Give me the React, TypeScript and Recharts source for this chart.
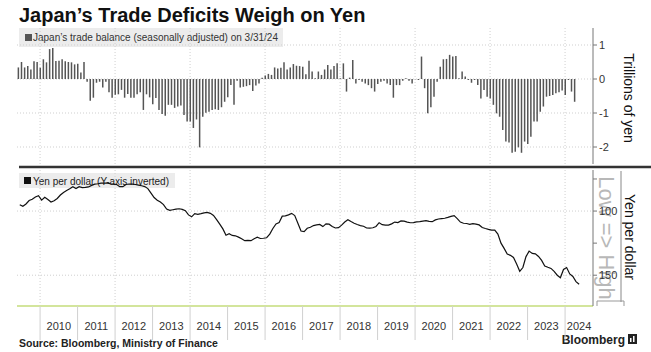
import { BarChart, Bar, LineChart, Line, XAxis, YAxis, CartesianGrid } from 'recharts';

const FONT = "'Liberation Sans', Arial, sans-serif";

// Japan's trade balance, seasonally adjusted, trillions of yen, monthly May 2009 .. Mar 2024
const BAL_START = { year: 2009, month: 5 };
const tradeBalance = [
  0.34, 0.5, 0.34, 0.38, 0.28, 0.52, 0.5, 0.33, 0.58, 0.49, 0.88, 0.91, 0.53, 0.54, 0.58, 0.52,
  0.5, 0.49, 0.43, 0.45, 0.19, 0.5,
  -0.08, -0.64, -0.55, -0.11, -0.08, -0.25, -0.08, -0.39, -0.55, -0.46, -0.45, -0.32, -0.55, -0.44,
  -0.55, -0.55, -0.45, -0.39, -0.91, -0.45, -0.54, -0.74, -0.56, -0.91, -1.03, -1.08, -0.76, -0.76,
  -0.85, -0.81, -0.78, -1.06, -1.25, -1.25, -1.44, -1.19, -2.01, -1.11, -0.99, -0.96, -0.91, -0.89,
  -0.91,
  -0.83, -0.67, -0.54, -0.18, -0.76, -0.05, -0.25, -0.23, -0.21, -0.18, -0.35, -0.19, -0.13, 0.04,
  0.1, 0.15, 0.12, 0.34, 0.31, 0.33, 0.49, 0.28, 0.34, 0.44, 0.39, 0.38, 0.36, 0.14, 0.54, 0.22,
  0.02, 0.22, 0.12, 0.28, 0.41, 0.28, 0.38, 0.46, 0.02, 0.46, -0.37, 0.04, 0.56, -0.13, -0.03, -0.08,
  -0.13, -0.18, -0.27, -0.37, -0.15, -0.08, -0.05, -0.13, -0.18, -0.55, -0.18, -0.18, -0.05, 0.02,
  -0.05, -0.13, -0.01, -0.03,
  0.66, -0.27, -1.01, -0.83, -0.52, -0.08, 0.36, 0.58, 0.59, 0.71, 0.66, 0.68, 0.02, 0.22, 0.07,
  -0.03, -0.11, -0.03, -0.18, -0.57, -0.32, -0.52, -0.57, -0.76, -1.01, -1.11, -1.5, -1.84, -1.87,
  -2.17, -2.14, -2.01, -2.17, -1.84, -1.91, -1.7, -1.25, -1.25, -0.96, -0.81, -0.52, -0.5, -0.47,
  -0.42, -0.39, -0.34, -0.47, -0.03, -0.37, -0.67,
];

// Yen per dollar, monthly Jun 2009 .. May 2024
const YEN_START = { year: 2009, month: 6 };
const yenPerDollar = [
  95.1, 96.3, 94.5, 91.8, 90.8, 89, 88,
  91.5, 89.3, 91, 93, 92, 90.2, 87.5, 85.5, 84, 82.7, 81, 82.5,
  81, 81.7, 81.6, 81.2, 80, 79, 78.7, 78.3, 78.3, 78.3, 78.7, 79,
  79.3, 81, 81, 79.3, 78.9, 79, 79.3, 79.8, 80.3, 80.9, 82.5, 86,
  89.5, 91.5, 93, 95, 98.5, 99.5, 99, 98.5, 98.2, 98.7, 99.7, 103,
  104.5, 102, 102.5, 102, 101.4, 101.1, 101.8, 103.4, 106.7, 110.2, 113.9, 118.8,
  117.7, 119, 119.3, 120.3, 121.6, 123.1, 122.8, 123.1, 121.6, 120.4, 121.4, 121.2,
  120.8, 118, 113.6, 110, 109, 104, 103.8, 103, 101.8, 103.5, 109.5, 115.6,
  116, 113.4, 112.6, 111.3, 110.8, 110.4, 112.1, 110, 110.2, 112, 113.2, 112.9,
  111, 108.5, 106.8, 108.2, 109.5, 110.5, 111.3, 111.8, 113.2, 113.3, 113, 112,
  109.1, 110.6, 111, 111, 110, 108.6, 109, 107.7, 107.8, 108.6, 109.1, 109,
  108.5, 108.2, 107.8, 107.5, 108, 108.3, 106.9, 106.2, 105.9, 105.6, 104.9, 104.1,
  103.6, 105.9, 108.6, 109.5, 109.7, 110.4, 109.8, 110.2, 110.8, 112.8, 113.6, 114.3,
  114.9, 114.9, 118, 125, 129.1, 133.5, 134.5, 136.2, 141.3, 147, 144, 135.5,
  131.2, 133, 133.3, 135.4, 138.5, 142.8, 143.8, 144.7, 147, 150, 152, 145.5,
  144, 149, 151, 155, 157,
];

const years = [2010, 2011, 2012, 2013, 2014, 2015, 2016, 2017, 2018, 2019, 2020, 2021, 2022, 2023, 2024];
const gridYears = [2010, 2012, 2014, 2016, 2018, 2020, 2022, 2024];
const balTicks = [1, 0, -1, -2];
const yenTicks = [75, 100, 125, 150];
const yenLabels = [100, 150];

const X_DOMAIN: [number, number] = [2009.385, 2024.745];

const balData = tradeBalance.map((v, i) => ({ t: BAL_START.year + (BAL_START.month + i) / 12, v }));
const yenData = yenPerDollar.map((v, i) => ({ t: YEN_START.year + (YEN_START.month + i - 0.5) / 12, v }));
// year labels sit in the middle of the visible part of each year
const labelTicks = years.map((y) => (y + Math.min(y + 1, X_DOMAIN[1])) / 2);

const tickStyle = { fill: '#333', fontSize: 11, fontFamily: FONT };

export default function App() {
  return (
    <div style={{ position: 'absolute', left: 0, top: 0, width: 651, height: 352, background: '#fff', fontFamily: FONT }}>
      <svg width={651} height={352} style={{ position: 'absolute', left: 0, top: 0 }}>
        <text x={19} y={21.5} fontSize={20} fontWeight="bold" fill="#111">
          Japan’s Trade Deficits Weigh on Yen
        </text>

        <rect x={19} y={28} width={264} height={19} fill="#ececec" />
        <rect x={25} y={34} width={7} height={7} fill="#555" />
        <text x={33} y={41} fontSize={10} fill="#333">
          Japan’s trade balance (seasonally adjusted) on 3/31/24
        </text>

        <rect x={19} y={173} width={156} height={15} fill="#ececec" />
        <rect x={24} y={177} width={7} height={7} fill="#111" />
        <text x={33} y={184.5} fontSize={10} fill="#222">
          Yen per dollar (Y-axis inverted)
        </text>

        <line x1={19} x2={651} y1={167} y2={167} stroke="#333" strokeWidth={2.5} />

        <text transform="translate(629,98) rotate(90)" textAnchor="middle" dominantBaseline="central" fontSize={14} fill="#111">
          Trillions of yen
        </text>
        <text transform="translate(606,238) rotate(90)" textAnchor="middle" dominantBaseline="central" fontSize={22} fill="#b8b8b8">
          Low =&gt; High
        </text>
        <text transform="translate(630,237) rotate(90)" textAnchor="middle" dominantBaseline="central" fontSize={14} fill="#111">
          Yen per dollar
        </text>
        <line x1={621} x2={621} y1={171} y2={302} stroke="#888" />
        <path d="M597 306 V301 H624 V306" fill="none" stroke="#999" />

        <text x={19} y={347} fontSize={10.5} fontWeight="bold" fill="#222">
          Source: Bloomberg, Ministry of Finance
        </text>
        <text x={625} y={344} textAnchor="end" fontSize={12} fontWeight="bold" fill="#222">
          Bloomberg
        </text>
        <rect x={628} y={334} width={9} height={10} fill="#222" />
        <rect x={630} y={338} width={1.5} height={4} fill="#fff" />
        <rect x={633} y={336} width={1.5} height={6} fill="#fff" />
      </svg>

      <div style={{ position: 'absolute', left: 0, top: 0 }}>
        <BarChart width={651} height={168} data={balData} margin={{ top: 28, right: 28, bottom: 4, left: 17 }}>
          <CartesianGrid stroke="#cfcfcf" strokeDasharray="1 2" verticalValues={gridYears} horizontalValues={balTicks} />
          <XAxis type="number" dataKey="t" domain={X_DOMAIN} hide allowDataOverflow />
          <YAxis
            orientation="right"
            width={30}
            domain={[-2.5, 1.5]}
            ticks={balTicks}
            interval={0}
            allowDataOverflow
            tickSize={4}
            tickMargin={2}
            axisLine={{ stroke: '#777' }}
            tickLine={{ stroke: '#777' }}
            tick={tickStyle}
          />
          <Bar dataKey="v" fill="#555" barSize={1.5} isAnimationActive={false} />
        </BarChart>
      </div>

      <div style={{ position: 'absolute', left: 0, top: 168 }}>
        <LineChart width={651} height={184} data={yenData} margin={{ top: 2, right: 28, bottom: 44, left: 17 }}>
          <CartesianGrid stroke="#cfcfcf" strokeDasharray="1 2" verticalValues={gridYears} horizontalValues={yenLabels} />
          <XAxis
            type="number"
            dataKey="t"
            domain={X_DOMAIN}
            ticks={years}
            interval={0}
            height={1}
            allowDataOverflow
            tickSize={34}
            tickFormatter={() => ''}
            axisLine={{ stroke: '#d3e59c', strokeWidth: 2 }}
            tickLine={{ stroke: '#d0d0d0' }}
          />
          <XAxis
            xAxisId="lab"
            type="number"
            dataKey="t"
            domain={X_DOMAIN}
            ticks={labelTicks}
            interval={0}
            height={1}
            allowDataOverflow
            tickSize={0}
            tickMargin={15}
            axisLine={false}
            tickLine={false}
            tickFormatter={(v: number) => String(Math.floor(v))}
            tick={tickStyle}
          />
          <YAxis
            orientation="right"
            width={30}
            reversed
            domain={[68, 174]}
            ticks={yenTicks}
            interval={0}
            allowDataOverflow
            tickSize={4}
            tickMargin={2}
            tickFormatter={(v: number) => (yenLabels.includes(v) ? String(v) : '')}
            axisLine={{ stroke: '#777' }}
            tickLine={{ stroke: '#777' }}
            tick={tickStyle}
          />
          <Line dataKey="v" type="linear" stroke="#111" strokeWidth={1.2} dot={false} isAnimationActive={false} />
        </LineChart>
      </div>
    </div>
  );
}
